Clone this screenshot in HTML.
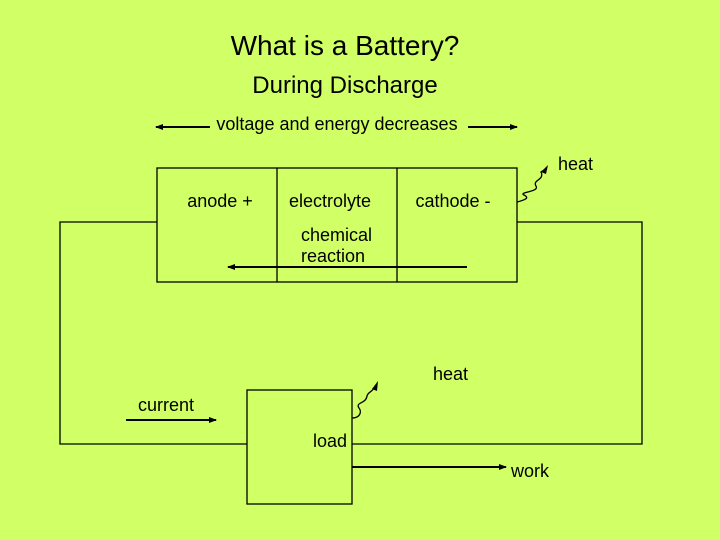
<!DOCTYPE html>
<html><head><style>
body{margin:0;background:#d0ff66;}
svg{display:block}
text{font-family:"Liberation Sans",Arial,sans-serif;fill:#000}
</style></head><body>
<svg width="720" height="540" viewBox="0 0 720 540">
<rect width="720" height="540" fill="#d0ff66"/>
<defs><marker id="a" markerWidth="8" markerHeight="6" refX="7" refY="3" orient="auto" markerUnits="userSpaceOnUse"><path d="M0,0 L8,3 L0,6 Z" fill="#000"/></marker></defs>
<text x="345" y="55" font-size="28" text-anchor="middle">What is a Battery?</text>
<text x="345" y="93" font-size="24" text-anchor="middle">During Discharge</text>
<text x="337" y="130" font-size="18" text-anchor="middle">voltage and energy decreases</text>
<line x1="210" y1="127" x2="156" y2="127" stroke="#000" stroke-width="2" marker-end="url(#a)"/>
<line x1="468" y1="127" x2="517" y2="127" stroke="#000" stroke-width="2" marker-end="url(#a)"/>
<g fill="none" stroke="#000" stroke-width="1.3">
<rect x="157" y="168" width="360" height="114"/>
<line x1="277" y1="168" x2="277" y2="282"/>
<line x1="397" y1="168" x2="397" y2="282"/>
<polyline points="157,222 60,222 60,444 247,444"/>
<polyline points="517,222 642,222 642,444 352,444"/>
<rect x="247" y="390" width="105" height="114"/>
<path d="M517,202 C525,200 530,198 524,195 C518,192 540,192 536,186 C532,180 545,180 541,172 L544,170"/>
<path d="M352,418 C360,418 362,412 359,408 C355,402 366,404 367,396 C368,392 372,392 374,388"/>
</g>
<path d="M541,172 L548,165 L546,174 Z" fill="#000"/>
<path d="M372,389 L378,381 L377,391 Z" fill="#000"/>
<text x="220" y="207" font-size="18" text-anchor="middle">anode +</text>
<text x="330" y="207" font-size="18" text-anchor="middle">electrolyte</text>
<text x="453" y="207" font-size="18" text-anchor="middle">cathode -</text>
<text x="301" y="241" font-size="18">chemical</text>
<text x="301" y="262" font-size="18">reaction</text>
<line x1="467" y1="267" x2="228" y2="267" stroke="#000" stroke-width="2" marker-end="url(#a)"/>
<text x="558" y="170" font-size="18">heat</text>
<text x="433" y="380" font-size="18">heat</text>
<text x="138" y="411" font-size="18">current</text>
<line x1="126" y1="420" x2="216" y2="420" stroke="#000" stroke-width="2" marker-end="url(#a)"/>
<text x="313" y="447" font-size="18">load</text>
<line x1="352" y1="467" x2="506" y2="467" stroke="#000" stroke-width="2" marker-end="url(#a)"/>
<text x="511" y="477" font-size="18">work</text>
</svg>
</body></html>
